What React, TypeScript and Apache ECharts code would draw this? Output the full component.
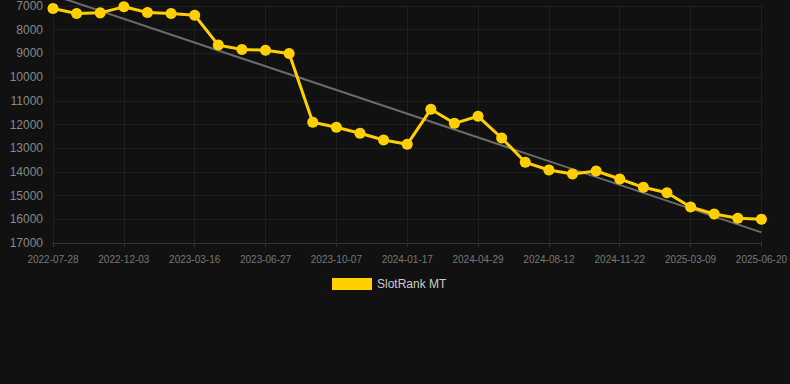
import React, { useEffect, useRef } from "react";
import * as echarts from "echarts";

const dates = [
  "2022-07-28", "2022-09-09", "2022-10-22", "2022-12-03", "2023-01-07", "2023-02-10",
  "2023-03-16", "2023-04-19", "2023-05-23", "2023-06-27", "2023-07-31", "2023-09-03",
  "2023-10-07", "2023-11-10", "2023-12-14", "2024-01-17", "2024-02-20", "2024-03-26",
  "2024-04-29", "2024-06-02", "2024-07-08", "2024-08-12", "2024-09-15", "2024-10-19",
  "2024-11-22", "2024-12-26", "2025-01-30", "2025-03-09", "2025-04-12", "2025-05-16",
  "2025-06-20",
];

const ranks = [
  7105, 7316, 7290, 7035, 7275, 7316, 7390, 8650, 8835, 8865, 9005,
  11907, 12118, 12371, 12654, 12835, 11359, 11950, 11654, 12570, 13595,
  13920, 14089, 13962, 14300, 14650, 14877, 15480, 15776, 15958, 16000,
];

const trendStart = 6540;
const trendEnd = 16550;

const seriesName = "SlotRank MT";

export default function App() {
  const ref = useRef<HTMLDivElement>(null);
  useEffect(() => {
    if (!ref.current) return;
    const chart = echarts.init(ref.current, null, { renderer: "svg" });
    chart.setOption({
      animation: false,
      backgroundColor: "#111111",
      textStyle: { fontFamily: "Liberation Sans, Arial, sans-serif" },
      grid: { left: 53, right: 28, top: 6, bottom: 141, containLabel: false },
      legend: {
        data: [seriesName],
        left: 327,
        top: 273,
        icon: "rect",
        itemWidth: 40,
        itemHeight: 12,
        itemGap: 10,
        textStyle: { color: "#cccccc", fontSize: 12 },
      },
      xAxis: {
        type: "category",
        data: dates,
        boundaryGap: false,
        axisLine: { lineStyle: { color: "#333333" } },
        axisTick: { show: true, interval: 2, length: 4, lineStyle: { color: "#333333" } },
        axisLabel: { interval: 2, color: "#777777", fontSize: 10, margin: 11 },
        splitLine: { show: true, interval: 2, lineStyle: { color: "#1f1f1f" } },
      },
      yAxis: {
        type: "value",
        inverse: true,
        min: 7000,
        max: 17000,
        interval: 1000,
        axisLine: { show: false },
        axisTick: { show: false },
        axisLabel: { color: "#888888", fontSize: 12, margin: 10, formatter: (v: number) => String(v) },
        splitLine: { lineStyle: { color: "#1f1f1f" } },
      },
      series: [
        {
          name: "trend",
          type: "line",
          data: [
            [dates[0], trendStart],
            [dates[dates.length - 1], trendEnd],
          ],
          symbol: "none",
          clip: false,
          lineStyle: { color: "#6a6a6a", width: 2 },
          z: 1,
          silent: true,
        },
        {
          name: seriesName,
          type: "line",
          data: ranks,
          symbol: "circle",
          symbolSize: 11,
          itemStyle: { color: "#ffcf00" },
          lineStyle: { color: "#ffcf00", width: 3 },
          z: 3,
        },
      ],
    });
    return () => chart.dispose();
  }, []);
  return <div ref={ref} style={{ width: 790, height: 384, position: "absolute", left: 0, top: 0 }} />;
}
